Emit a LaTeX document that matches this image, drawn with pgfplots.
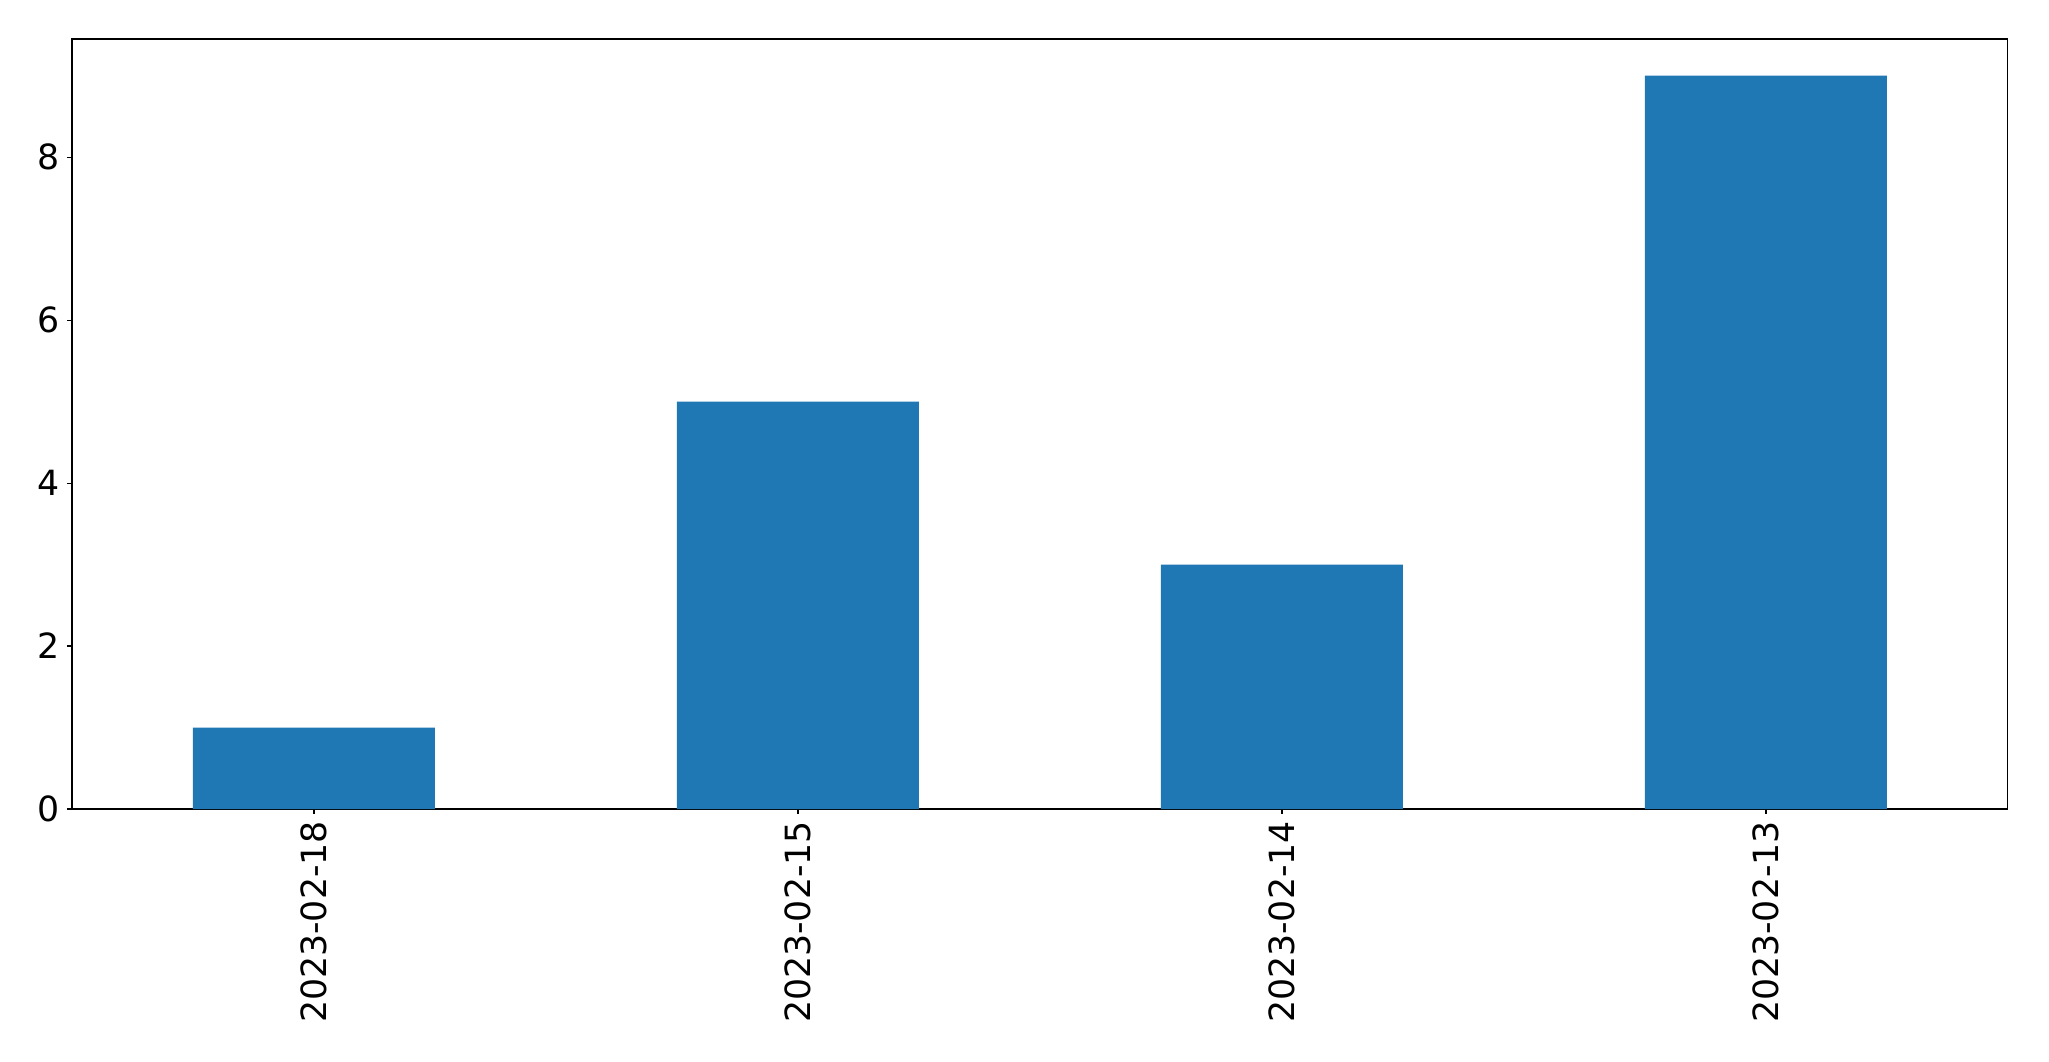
\documentclass[border=0pt]{standalone}
\usepackage{pgfplots}
\pgfplotsset{compat=1.18}
\usepackage{fontspec}
\setmainfont{DejaVu Sans}
\definecolor{mplblue}{HTML}{1F77B4}
\begin{document}
\begin{tikzpicture}
\useasboundingbox (-51.84pt,-181.44pt) rectangle (1423.44pt,582.48pt);
\begin{axis}[
  at={(0pt,0pt)}, anchor=south west,
  scale only axis, width=1393.92pt, height=554.4pt,
  xmin=-0.5, xmax=3.5, ymin=0, ymax=9.45,
  xtick={0,1,2,3},
  xticklabels={2023-02-18,2023-02-15,2023-02-14,2023-02-13},
  x tick label style={rotate=90, anchor=east, inner sep=0pt, xshift=-5pt},
  y tick label style={inner sep=0pt, xshift=-5pt},
  ytick={0,2,4,6,8},
  tick label style={font=\fontsize{25}{30}\selectfont},
  /pgf/number format/assume math mode=true,
  tick align=outside, tick pos=left,
  major tick length=3.5pt,
  every tick/.style={black, line width=0.8pt},
  axis line style={black, line width=0.8pt},
]
\addplot[ybar, fill=mplblue, draw=none, bar width=0.5] coordinates {(0,1) (1,5) (2,3) (3,9)};
\end{axis}
\end{tikzpicture}
\end{document}
